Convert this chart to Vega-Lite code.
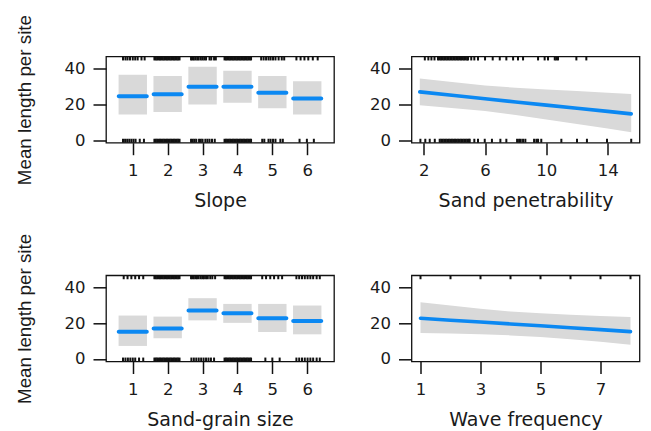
{
  "$schema": "https://vega.github.io/schema/vega-lite/v6.json",
  "background": "white",
  "padding": {"left": 14, "top": 13.5, "right": 5, "bottom": 0},
  "columns": 2,
  "bounds": "flush",
  "spacing": {"row": 131.8, "column": 77.5},
  "config": {
    "view": {"stroke": "#111111", "strokeWidth": 1.3},
    "font": "DejaVu Sans",
    "axis": {
      "domain": false,
      "grid": false,
      "tickColor": "#111111",
      "tickWidth": 1.5,
      "tickSize": 12,
      "labelFont": "DejaVu Sans",
      "labelFontSize": 16.5,
      "labelColor": "#1a1a1a",
      "labelFlush": false,
      "labelOverlap": false,
      "titleFont": "DejaVu Sans",
      "titleFontSize": 19,
      "titleFontWeight": "normal",
      "titleColor": "#1a1a1a"
    },
    "axisX": {"labelPadding": 8, "titlePadding": 12},
    "axisY": {"tickSize": 13, "labelPadding": 8, "titlePadding": 30, "titleFont": "Liberation Sans", "titleFontSize": 18.8}
  },
  "datasets": {
    "slopeEffect": [
      {"level": 1, "fit": 24.6, "lower": 14.3, "upper": 36.6},
      {"level": 2, "fit": 25.7, "lower": 15.8, "upper": 35.9},
      {"level": 3, "fit": 29.9, "lower": 19.9, "upper": 41.0},
      {"level": 4, "fit": 29.9, "lower": 20.9, "upper": 38.9},
      {"level": 5, "fit": 26.5, "lower": 17.9, "upper": 35.9},
      {"level": 6, "fit": 23.3, "lower": 14.3, "upper": 32.9}
    ],
    "grainEffect": [
      {"level": 1, "fit": 15.3, "lower": 7.3, "upper": 24.3},
      {"level": 2, "fit": 17.0, "lower": 11.6, "upper": 23.7},
      {"level": 3, "fit": 27.1, "lower": 21.6, "upper": 34.0},
      {"level": 4, "fit": 25.6, "lower": 20.2, "upper": 30.8},
      {"level": 5, "fit": 22.8, "lower": 15.1, "upper": 30.8},
      {"level": 6, "fit": 21.3, "lower": 13.8, "upper": 29.9}
    ],
    "penetrabilityEffect": [
      {"value": 1.74, "fit": 27.0, "lower": 19.6, "upper": 34.5},
      {"value": 4, "fit": 25.0, "lower": 17.8, "upper": 32.4},
      {"value": 6, "fit": 23.2, "lower": 16.3, "upper": 30.6},
      {"value": 8, "fit": 21.4, "lower": 14.1, "upper": 29.3},
      {"value": 10, "fit": 19.6, "lower": 11.6, "upper": 28.4},
      {"value": 12, "fit": 17.9, "lower": 9.0, "upper": 27.5},
      {"value": 14, "fit": 16.1, "lower": 6.5, "upper": 26.6},
      {"value": 15.54, "fit": 14.7, "lower": 4.5, "upper": 25.9}
    ],
    "waveEffect": [
      {"value": 1, "fit": 22.8, "lower": 14.5, "upper": 31.8},
      {"value": 2, "fit": 21.7, "lower": 14.2, "upper": 29.9},
      {"value": 3, "fit": 20.7, "lower": 13.8, "upper": 28.1},
      {"value": 4, "fit": 19.6, "lower": 13.2, "upper": 26.6},
      {"value": 5, "fit": 18.6, "lower": 12.3, "upper": 25.6},
      {"value": 6, "fit": 17.5, "lower": 11.1, "upper": 24.8},
      {"value": 7, "fit": 16.4, "lower": 9.6, "upper": 24.1},
      {"value": 8, "fit": 15.3, "lower": 8.0, "upper": 23.5}
    ],
    "slopeRug": [
      {"side": "top", "x": 0.72}, {"side": "top", "x": 0.79}, {"side": "top", "x": 0.85}, {"side": "top", "x": 0.92}, {"side": "top", "x": 1.0}, {"side": "top", "x": 1.07}, {"side": "top", "x": 1.14}, {"side": "top", "x": 1.25}, {"side": "top", "x": 1.34},
      {"side": "top", "x": 1.62}, {"side": "top", "x": 1.66}, {"side": "top", "x": 1.70}, {"side": "top", "x": 1.74}, {"side": "top", "x": 1.78}, {"side": "top", "x": 1.82}, {"side": "top", "x": 1.86}, {"side": "top", "x": 1.90}, {"side": "top", "x": 1.94}, {"side": "top", "x": 1.98}, {"side": "top", "x": 2.02}, {"side": "top", "x": 2.06}, {"side": "top", "x": 2.10}, {"side": "top", "x": 2.14}, {"side": "top", "x": 2.18}, {"side": "top", "x": 2.22}, {"side": "top", "x": 2.26}, {"side": "top", "x": 2.30}, {"side": "top", "x": 2.34},
      {"side": "top", "x": 2.67}, {"side": "top", "x": 2.71}, {"side": "top", "x": 2.75}, {"side": "top", "x": 2.80}, {"side": "top", "x": 2.85}, {"side": "top", "x": 2.89}, {"side": "top", "x": 2.95}, {"side": "top", "x": 3.0}, {"side": "top", "x": 3.05}, {"side": "top", "x": 3.10}, {"side": "top", "x": 3.20}, {"side": "top", "x": 3.25}, {"side": "top", "x": 3.33}, {"side": "top", "x": 3.38},
      {"side": "top", "x": 3.63}, {"side": "top", "x": 3.67}, {"side": "top", "x": 3.71}, {"side": "top", "x": 3.75}, {"side": "top", "x": 3.79}, {"side": "top", "x": 3.83}, {"side": "top", "x": 3.87}, {"side": "top", "x": 3.91}, {"side": "top", "x": 3.95}, {"side": "top", "x": 3.99}, {"side": "top", "x": 4.03}, {"side": "top", "x": 4.07}, {"side": "top", "x": 4.11}, {"side": "top", "x": 4.15}, {"side": "top", "x": 4.19}, {"side": "top", "x": 4.23}, {"side": "top", "x": 4.27}, {"side": "top", "x": 4.31}, {"side": "top", "x": 4.35}, {"side": "top", "x": 4.39},
      {"side": "top", "x": 4.68}, {"side": "top", "x": 4.75}, {"side": "top", "x": 4.82}, {"side": "top", "x": 4.89}, {"side": "top", "x": 4.95}, {"side": "top", "x": 5.02}, {"side": "top", "x": 5.09}, {"side": "top", "x": 5.18}, {"side": "top", "x": 5.27}, {"side": "top", "x": 5.34},
      {"side": "top", "x": 5.69}, {"side": "top", "x": 5.81}, {"side": "top", "x": 5.92}, {"side": "top", "x": 6.03}, {"side": "top", "x": 6.16}, {"side": "top", "x": 6.30},
      {"side": "bottom", "x": 0.72}, {"side": "bottom", "x": 0.78}, {"side": "bottom", "x": 0.84}, {"side": "bottom", "x": 0.90}, {"side": "bottom", "x": 0.96}, {"side": "bottom", "x": 1.02}, {"side": "bottom", "x": 1.08}, {"side": "bottom", "x": 1.20}, {"side": "bottom", "x": 1.32},
      {"side": "bottom", "x": 1.62}, {"side": "bottom", "x": 1.66}, {"side": "bottom", "x": 1.70}, {"side": "bottom", "x": 1.74}, {"side": "bottom", "x": 1.78}, {"side": "bottom", "x": 1.82}, {"side": "bottom", "x": 1.86}, {"side": "bottom", "x": 1.90}, {"side": "bottom", "x": 1.94}, {"side": "bottom", "x": 1.98}, {"side": "bottom", "x": 2.02}, {"side": "bottom", "x": 2.06}, {"side": "bottom", "x": 2.10}, {"side": "bottom", "x": 2.14}, {"side": "bottom", "x": 2.18}, {"side": "bottom", "x": 2.22}, {"side": "bottom", "x": 2.26}, {"side": "bottom", "x": 2.30}, {"side": "bottom", "x": 2.34},
      {"side": "bottom", "x": 2.67}, {"side": "bottom", "x": 2.72}, {"side": "bottom", "x": 2.77}, {"side": "bottom", "x": 2.82}, {"side": "bottom", "x": 2.90}, {"side": "bottom", "x": 2.95}, {"side": "bottom", "x": 3.0}, {"side": "bottom", "x": 3.08}, {"side": "bottom", "x": 3.14}, {"side": "bottom", "x": 3.20}, {"side": "bottom", "x": 3.27}, {"side": "bottom", "x": 3.35},
      {"side": "bottom", "x": 3.63}, {"side": "bottom", "x": 3.67}, {"side": "bottom", "x": 3.71}, {"side": "bottom", "x": 3.75}, {"side": "bottom", "x": 3.79}, {"side": "bottom", "x": 3.83}, {"side": "bottom", "x": 3.87}, {"side": "bottom", "x": 3.91}, {"side": "bottom", "x": 3.95}, {"side": "bottom", "x": 3.99}, {"side": "bottom", "x": 4.03}, {"side": "bottom", "x": 4.07}, {"side": "bottom", "x": 4.11}, {"side": "bottom", "x": 4.15}, {"side": "bottom", "x": 4.19}, {"side": "bottom", "x": 4.23}, {"side": "bottom", "x": 4.27}, {"side": "bottom", "x": 4.31}, {"side": "bottom", "x": 4.35}, {"side": "bottom", "x": 4.39},
      {"side": "bottom", "x": 4.71}, {"side": "bottom", "x": 4.77}, {"side": "bottom", "x": 4.89}, {"side": "bottom", "x": 4.95}, {"side": "bottom", "x": 5.02}, {"side": "bottom", "x": 5.09}, {"side": "bottom", "x": 5.23}, {"side": "bottom", "x": 5.30},
      {"side": "bottom", "x": 5.78}, {"side": "bottom", "x": 5.99}, {"side": "bottom", "x": 6.19}
    ],
    "grainRug": [
      {"side": "top", "x": 0.74}, {"side": "top", "x": 0.85}, {"side": "top", "x": 0.96}, {"side": "top", "x": 1.07}, {"side": "top", "x": 1.18}, {"side": "top", "x": 1.30},
      {"side": "top", "x": 1.62}, {"side": "top", "x": 1.66}, {"side": "top", "x": 1.70}, {"side": "top", "x": 1.74}, {"side": "top", "x": 1.78}, {"side": "top", "x": 1.82}, {"side": "top", "x": 1.86}, {"side": "top", "x": 1.90}, {"side": "top", "x": 1.94}, {"side": "top", "x": 1.98}, {"side": "top", "x": 2.02}, {"side": "top", "x": 2.06}, {"side": "top", "x": 2.10}, {"side": "top", "x": 2.14}, {"side": "top", "x": 2.18}, {"side": "top", "x": 2.22}, {"side": "top", "x": 2.26}, {"side": "top", "x": 2.30}, {"side": "top", "x": 2.34},
      {"side": "top", "x": 2.67}, {"side": "top", "x": 2.71}, {"side": "top", "x": 2.75}, {"side": "top", "x": 2.80}, {"side": "top", "x": 2.84}, {"side": "top", "x": 2.89}, {"side": "top", "x": 2.95}, {"side": "top", "x": 3.0}, {"side": "top", "x": 3.04}, {"side": "top", "x": 3.10}, {"side": "top", "x": 3.15}, {"side": "top", "x": 3.22}, {"side": "top", "x": 3.28}, {"side": "top", "x": 3.36},
      {"side": "top", "x": 3.63}, {"side": "top", "x": 3.67}, {"side": "top", "x": 3.71}, {"side": "top", "x": 3.75}, {"side": "top", "x": 3.79}, {"side": "top", "x": 3.83}, {"side": "top", "x": 3.87}, {"side": "top", "x": 3.91}, {"side": "top", "x": 3.95}, {"side": "top", "x": 3.99}, {"side": "top", "x": 4.03}, {"side": "top", "x": 4.07}, {"side": "top", "x": 4.11}, {"side": "top", "x": 4.15}, {"side": "top", "x": 4.19}, {"side": "top", "x": 4.23}, {"side": "top", "x": 4.27}, {"side": "top", "x": 4.31}, {"side": "top", "x": 4.35}, {"side": "top", "x": 4.39},
      {"side": "top", "x": 4.71}, {"side": "top", "x": 4.82}, {"side": "top", "x": 4.94}, {"side": "top", "x": 5.05}, {"side": "top", "x": 5.17}, {"side": "top", "x": 5.28},
      {"side": "top", "x": 5.69}, {"side": "top", "x": 5.77}, {"side": "top", "x": 5.85}, {"side": "top", "x": 5.93}, {"side": "top", "x": 6.01}, {"side": "top", "x": 6.09}, {"side": "top", "x": 6.17}, {"side": "top", "x": 6.27}, {"side": "top", "x": 6.36},
      {"side": "bottom", "x": 0.72}, {"side": "bottom", "x": 0.79}, {"side": "bottom", "x": 0.86}, {"side": "bottom", "x": 0.93}, {"side": "bottom", "x": 1.0}, {"side": "bottom", "x": 1.07}, {"side": "bottom", "x": 1.18}, {"side": "bottom", "x": 1.30},
      {"side": "bottom", "x": 1.62}, {"side": "bottom", "x": 1.66}, {"side": "bottom", "x": 1.70}, {"side": "bottom", "x": 1.74}, {"side": "bottom", "x": 1.78}, {"side": "bottom", "x": 1.82}, {"side": "bottom", "x": 1.86}, {"side": "bottom", "x": 1.90}, {"side": "bottom", "x": 1.94}, {"side": "bottom", "x": 1.98}, {"side": "bottom", "x": 2.02}, {"side": "bottom", "x": 2.06}, {"side": "bottom", "x": 2.10}, {"side": "bottom", "x": 2.14}, {"side": "bottom", "x": 2.18}, {"side": "bottom", "x": 2.22}, {"side": "bottom", "x": 2.26}, {"side": "bottom", "x": 2.30}, {"side": "bottom", "x": 2.34},
      {"side": "bottom", "x": 2.68}, {"side": "bottom", "x": 2.75}, {"side": "bottom", "x": 2.82}, {"side": "bottom", "x": 2.89}, {"side": "bottom", "x": 2.96}, {"side": "bottom", "x": 3.03}, {"side": "bottom", "x": 3.10}, {"side": "bottom", "x": 3.17}, {"side": "bottom", "x": 3.24}, {"side": "bottom", "x": 3.33},
      {"side": "bottom", "x": 3.63}, {"side": "bottom", "x": 3.67}, {"side": "bottom", "x": 3.71}, {"side": "bottom", "x": 3.75}, {"side": "bottom", "x": 3.79}, {"side": "bottom", "x": 3.83}, {"side": "bottom", "x": 3.87}, {"side": "bottom", "x": 3.91}, {"side": "bottom", "x": 3.95}, {"side": "bottom", "x": 3.99}, {"side": "bottom", "x": 4.03}, {"side": "bottom", "x": 4.07}, {"side": "bottom", "x": 4.11}, {"side": "bottom", "x": 4.15}, {"side": "bottom", "x": 4.19}, {"side": "bottom", "x": 4.23}, {"side": "bottom", "x": 4.27}, {"side": "bottom", "x": 4.31}, {"side": "bottom", "x": 4.35}, {"side": "bottom", "x": 4.39},
      {"side": "bottom", "x": 4.80}, {"side": "bottom", "x": 5.00}, {"side": "bottom", "x": 5.21},
      {"side": "bottom", "x": 5.69}, {"side": "bottom", "x": 5.77}, {"side": "bottom", "x": 5.85}, {"side": "bottom", "x": 5.93}, {"side": "bottom", "x": 6.01}, {"side": "bottom", "x": 6.09}, {"side": "bottom", "x": 6.17}, {"side": "bottom", "x": 6.27}, {"side": "bottom", "x": 6.36}
    ],
    "penetrabilityRug": [
      {"side": "top", "x": 2.07}, {"side": "top", "x": 2.3}, {"side": "top", "x": 2.5}, {"side": "top", "x": 2.7},
      {"side": "top", "x": 2.93}, {"side": "top", "x": 3.03}, {"side": "top", "x": 3.13}, {"side": "top", "x": 3.23}, {"side": "top", "x": 3.33}, {"side": "top", "x": 3.43}, {"side": "top", "x": 3.53}, {"side": "top", "x": 3.63}, {"side": "top", "x": 3.73}, {"side": "top", "x": 3.83}, {"side": "top", "x": 3.93}, {"side": "top", "x": 4.03}, {"side": "top", "x": 4.13}, {"side": "top", "x": 4.23}, {"side": "top", "x": 4.33}, {"side": "top", "x": 4.43}, {"side": "top", "x": 4.53}, {"side": "top", "x": 4.63}, {"side": "top", "x": 4.73}, {"side": "top", "x": 4.83}, {"side": "top", "x": 4.89},
      {"side": "top", "x": 5.1}, {"side": "top", "x": 5.3}, {"side": "top", "x": 5.54}, {"side": "top", "x": 6.0}, {"side": "top", "x": 6.5}, {"side": "top", "x": 6.96}, {"side": "top", "x": 7.39}, {"side": "top", "x": 7.83}, {"side": "top", "x": 8.15}, {"side": "top", "x": 8.48}, {"side": "top", "x": 9.46}, {"side": "top", "x": 9.89}, {"side": "top", "x": 10.11}, {"side": "top", "x": 10.55}, {"side": "top", "x": 10.65}, {"side": "top", "x": 10.76}, {"side": "top", "x": 11.96}, {"side": "top", "x": 12.61},
      {"side": "bottom", "x": 1.78}, {"side": "bottom", "x": 2.1}, {"side": "bottom", "x": 2.39}, {"side": "bottom", "x": 2.72},
      {"side": "bottom", "x": 3.04}, {"side": "bottom", "x": 3.14}, {"side": "bottom", "x": 3.24}, {"side": "bottom", "x": 3.34}, {"side": "bottom", "x": 3.44}, {"side": "bottom", "x": 3.54}, {"side": "bottom", "x": 3.64}, {"side": "bottom", "x": 3.74}, {"side": "bottom", "x": 3.84}, {"side": "bottom", "x": 3.94}, {"side": "bottom", "x": 4.04}, {"side": "bottom", "x": 4.14}, {"side": "bottom", "x": 4.24}, {"side": "bottom", "x": 4.34}, {"side": "bottom", "x": 4.44}, {"side": "bottom", "x": 4.54}, {"side": "bottom", "x": 4.64}, {"side": "bottom", "x": 4.74}, {"side": "bottom", "x": 4.84}, {"side": "bottom", "x": 4.94}, {"side": "bottom", "x": 5.0},
      {"side": "bottom", "x": 5.3}, {"side": "bottom", "x": 5.54}, {"side": "bottom", "x": 5.98}, {"side": "bottom", "x": 6.45}, {"side": "bottom", "x": 7.0}, {"side": "bottom", "x": 7.39}, {"side": "bottom", "x": 8.09}, {"side": "bottom", "x": 8.22}, {"side": "bottom", "x": 8.33}, {"side": "bottom", "x": 8.48}, {"side": "bottom", "x": 8.63}, {"side": "bottom", "x": 9.2}, {"side": "bottom", "x": 9.35}, {"side": "bottom", "x": 9.46}, {"side": "bottom", "x": 9.67}, {"side": "bottom", "x": 10.98}, {"side": "bottom", "x": 12.0}, {"side": "bottom", "x": 12.65}, {"side": "bottom", "x": 13.96}, {"side": "bottom", "x": 15.54}
    ],
    "waveRug": [
      {"side": "top", "x": 1}, {"side": "top", "x": 2}, {"side": "top", "x": 3}, {"side": "top", "x": 4},
      {"side": "top", "x": 5}, {"side": "top", "x": 6}, {"side": "top", "x": 7}, {"side": "top", "x": 8}
    ]
  },
  "concat": [
    {
      "width": 228,
      "height": 86.2,
      "layer": [
        {
          "data": {"name": "slopeEffect"},
          "mark": {"type": "bar", "width": 28.4, "color": "#d9d9d9"},
          "encoding": {
            "x": {"field": "level", "type": "quantitative", "scale": {"domain": [0.376, 6.624], "nice": false, "zero": false},
                  "axis": {"values": [1, 2, 3, 4, 5, 6], "format": "d", "title": "Slope"}},
            "y": {"field": "lower", "type": "quantitative", "scale": {"domain": [-1.4, 46.8], "nice": false, "zero": false},
                  "axis": {"values": [0, 10, 20, 30, 40], "labelExpr": "datum.value % 20 === 0 ? datum.label : ''", "title": "Mean length per site"}},
            "y2": {"field": "upper"}
          }
        },
        {
          "data": {"name": "slopeEffect"},
          "mark": {"type": "tick", "orient": "horizontal", "size": 32, "thickness": 4, "cornerRadius": 2, "color": "#0b88f2", "opacity": 1},
          "encoding": {
            "x": {"field": "level", "type": "quantitative"},
            "y": {"field": "fit", "type": "quantitative"}
          }
        },
        {
          "data": {"name": "slopeRug"},
          "transform": [{"filter": "datum.side === 'top'"}],
          "mark": {"type": "rule", "color": "#111111", "strokeWidth": 2},
          "encoding": {"x": {"field": "x", "type": "quantitative"}, "y": {"datum": 46.8}, "y2": {"datum": 44.6}}
        },
        {
          "data": {"name": "slopeRug"},
          "transform": [{"filter": "datum.side === 'bottom'"}],
          "mark": {"type": "rule", "color": "#111111", "strokeWidth": 2},
          "encoding": {"x": {"field": "x", "type": "quantitative"}, "y": {"datum": -1.4}, "y2": {"datum": 0.8}}
        }
      ]
    },
    {
      "width": 228,
      "height": 86.2,
      "layer": [
        {
          "data": {"name": "penetrabilityEffect"},
          "mark": {"type": "area", "color": "#d9d9d9", "opacity": 1},
          "encoding": {
            "x": {"field": "value", "type": "quantitative", "scale": {"domain": [1.2, 16.08], "nice": false, "zero": false},
                  "axis": {"values": [2, 4, 6, 8, 10, 12, 14, 16], "labelExpr": "(datum.value - 2) % 4 === 0 ? datum.label : ''", "title": "Sand penetrability"}},
            "y": {"field": "lower", "type": "quantitative", "scale": {"domain": [-1.4, 46.8], "nice": false, "zero": false},
                  "axis": {"values": [0, 10, 20, 30, 40], "labelExpr": "datum.value % 20 === 0 ? datum.label : ''", "title": null}},
            "y2": {"field": "upper"}
          }
        },
        {
          "data": {"name": "penetrabilityEffect"},
          "mark": {"type": "line", "color": "#0b88f2", "strokeWidth": 3.6, "strokeCap": "round"},
          "encoding": {
            "x": {"field": "value", "type": "quantitative"},
            "y": {"field": "fit", "type": "quantitative"}
          }
        },
        {
          "data": {"name": "penetrabilityRug"},
          "transform": [{"filter": "datum.side === 'top'"}],
          "mark": {"type": "rule", "color": "#111111", "strokeWidth": 2},
          "encoding": {"x": {"field": "x", "type": "quantitative"}, "y": {"datum": 46.8}, "y2": {"datum": 44.6}}
        },
        {
          "data": {"name": "penetrabilityRug"},
          "transform": [{"filter": "datum.side === 'bottom'"}],
          "mark": {"type": "rule", "color": "#111111", "strokeWidth": 2},
          "encoding": {"x": {"field": "x", "type": "quantitative"}, "y": {"datum": -1.4}, "y2": {"datum": 0.8}}
        }
      ]
    },
    {
      "width": 228,
      "height": 86.2,
      "layer": [
        {
          "data": {"name": "grainEffect"},
          "mark": {"type": "bar", "width": 28.4, "color": "#d9d9d9"},
          "encoding": {
            "x": {"field": "level", "type": "quantitative", "scale": {"domain": [0.376, 6.624], "nice": false, "zero": false},
                  "axis": {"values": [1, 2, 3, 4, 5, 6], "format": "d", "title": "Sand-grain size"}},
            "y": {"field": "lower", "type": "quantitative", "scale": {"domain": [-1.4, 46.8], "nice": false, "zero": false},
                  "axis": {"values": [0, 10, 20, 30, 40], "labelExpr": "datum.value % 20 === 0 ? datum.label : ''", "title": "Mean length per site"}},
            "y2": {"field": "upper"}
          }
        },
        {
          "data": {"name": "grainEffect"},
          "mark": {"type": "tick", "orient": "horizontal", "size": 32, "thickness": 4, "cornerRadius": 2, "color": "#0b88f2", "opacity": 1},
          "encoding": {
            "x": {"field": "level", "type": "quantitative"},
            "y": {"field": "fit", "type": "quantitative"}
          }
        },
        {
          "data": {"name": "grainRug"},
          "transform": [{"filter": "datum.side === 'top'"}],
          "mark": {"type": "rule", "color": "#111111", "strokeWidth": 2},
          "encoding": {"x": {"field": "x", "type": "quantitative"}, "y": {"datum": 46.8}, "y2": {"datum": 44.6}}
        },
        {
          "data": {"name": "grainRug"},
          "transform": [{"filter": "datum.side === 'bottom'"}],
          "mark": {"type": "rule", "color": "#111111", "strokeWidth": 2},
          "encoding": {"x": {"field": "x", "type": "quantitative"}, "y": {"datum": -1.4}, "y2": {"datum": 0.8}}
        }
      ]
    },
    {
      "width": 228,
      "height": 86.2,
      "layer": [
        {
          "data": {"name": "waveEffect"},
          "mark": {"type": "area", "color": "#d9d9d9", "opacity": 1},
          "encoding": {
            "x": {"field": "value", "type": "quantitative", "scale": {"domain": [0.7, 8.3], "nice": false, "zero": false},
                  "axis": {"values": [1, 2, 3, 4, 5, 6, 7, 8], "labelExpr": "datum.value % 2 === 1 ? datum.label : ''", "title": "Wave frequency"}},
            "y": {"field": "lower", "type": "quantitative", "scale": {"domain": [-1.4, 46.8], "nice": false, "zero": false},
                  "axis": {"values": [0, 10, 20, 30, 40], "labelExpr": "datum.value % 20 === 0 ? datum.label : ''", "title": null}},
            "y2": {"field": "upper"}
          }
        },
        {
          "data": {"name": "waveEffect"},
          "mark": {"type": "line", "color": "#0b88f2", "strokeWidth": 3.6, "strokeCap": "round"},
          "encoding": {
            "x": {"field": "value", "type": "quantitative"},
            "y": {"field": "fit", "type": "quantitative"}
          }
        },
        {
          "data": {"name": "waveRug"},
          "mark": {"type": "rule", "color": "#111111", "strokeWidth": 2},
          "encoding": {"x": {"field": "x", "type": "quantitative"}, "y": {"datum": 46.8}, "y2": {"datum": 44.6}}
        }
      ]
    }
  ]
}
